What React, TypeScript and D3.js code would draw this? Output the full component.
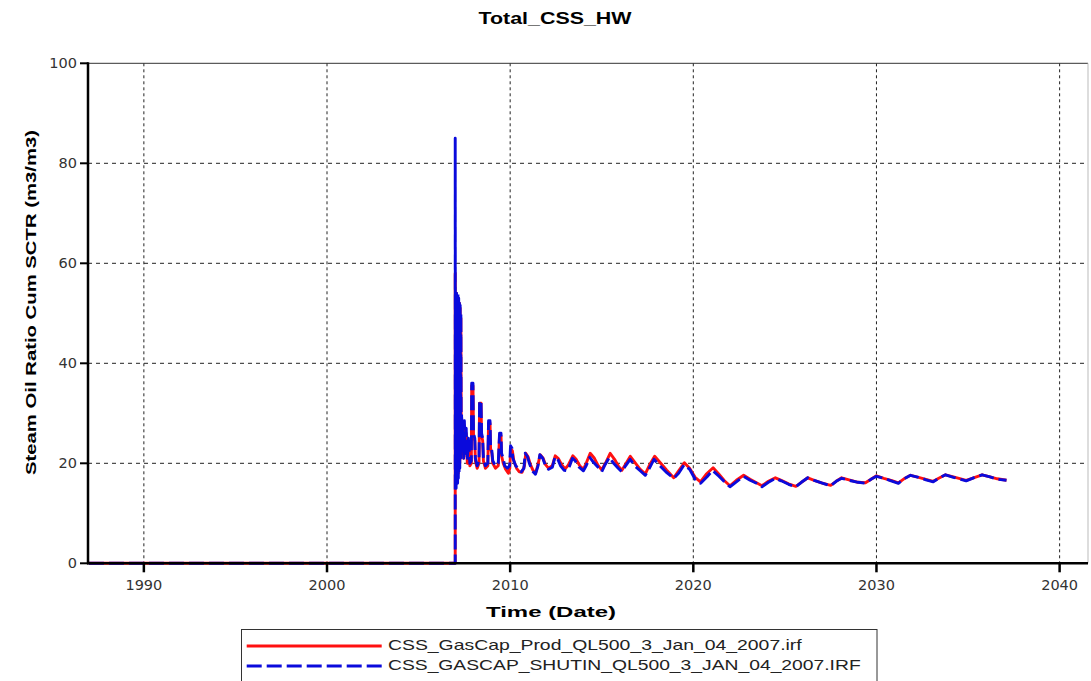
import React from 'react';
import * as d3 from 'd3';

const chartTitle = 'Total_CSS_HW';
const yAxisTitle = 'Steam Oil Ratio Cum SCTR (m3/m3)';
const xAxisTitle = 'Time (Date)';
const xTicks = [1990, 2000, 2010, 2020, 2030, 2040];
const yTicks = [0, 20, 40, 60, 80, 100];
const seriesNames = [
  'CSS_GasCap_Prod_QL500_3_Jan_04_2007.irf',
  'CSS_GASCAP_SHUTIN_QL500_3_JAN_04_2007.IRF',
];

// Series 1 (red, solid): CSS_GasCap_Prod
const prodYears = [
  1987.0, 2007.0, 2007.0, 2007.012, 2007.03, 2007.05, 2007.07, 2007.09, 2007.11, 2007.13, 2007.15, 2007.17,
  2007.19, 2007.21, 2007.23, 2007.25, 2007.27, 2007.29, 2007.31, 2007.33, 2007.35, 2007.38, 2007.42, 2007.46,
  2007.5, 2007.55, 2007.6, 2007.66, 2007.72, 2007.8, 2007.88, 2007.9, 2007.97, 2008.0, 2008.07, 2008.1,
  2008.2, 2008.3, 2008.33, 2008.41, 2008.44, 2008.5, 2008.54, 2008.65, 2008.78, 2008.82, 2008.9, 2008.93,
  2009.0, 2009.05, 2009.2, 2009.35, 2009.42, 2009.5, 2009.53, 2009.62, 2009.75, 2009.9, 2009.98, 2010.03,
  2010.12, 2010.2, 2010.35, 2010.5, 2010.65, 2010.78, 2010.85, 2010.98, 2011.1, 2011.25, 2011.4, 2011.52,
  2011.64, 2011.8, 2011.92, 2012.1, 2012.3, 2012.46, 2012.62, 2012.8, 2013.0, 2013.15, 2013.42, 2013.6,
  2013.8, 2014.0, 2014.15, 2014.37, 2014.6, 2014.8, 2015.0, 2015.2, 2015.46, 2015.7, 2015.9, 2016.1,
  2016.3, 2016.56, 2016.85, 2017.1, 2017.38, 2017.6, 2017.89, 2018.15, 2018.55, 2018.93, 2019.2, 2019.51,
  2019.8, 2020.1, 2020.39, 2020.7, 2021.08, 2021.4, 2021.7, 2022.0, 2022.35, 2022.75, 2023.1, 2023.45,
  2023.75, 2024.1, 2024.48, 2024.8, 2025.2, 2025.6, 2025.9, 2026.25, 2026.6, 2027.0, 2027.5, 2027.8,
  2028.1, 2028.5, 2029.0, 2029.4, 2029.7, 2030.0, 2030.4, 2030.8, 2031.2, 2031.5, 2031.86, 2032.3,
  2032.7, 2033.1, 2033.4, 2033.77, 2034.2, 2034.6, 2034.9, 2035.3, 2035.77, 2036.2, 2036.6, 2037.1,
];
const prodValues = [
  0, 0, 58, 16, 54, 16, 54, 17, 53, 17, 53, 18,
  52, 19, 52, 20, 51, 21, 49, 22, 29, 22.5, 27, 21,
  27.5, 22, 26, 20, 24, 19.5, 20, 35.5, 35.5, 25.5, 24.5, 20.5,
  19, 20, 32, 32, 25.5, 24.5, 20.5, 19, 19.5, 28, 28, 23,
  22, 20, 19, 19.5, 25.5, 25.5, 21.5, 20, 18.8, 18, 19, 23,
  22.5, 20.5, 19, 18.3, 18.2, 19.5, 22, 21.3, 19.8, 18.6, 18.2, 19.8,
  21.7, 21, 19.8, 19, 19.5, 21.5, 21, 19.8, 18.9, 19.5, 21.5, 20.8,
  19.5, 18.8, 20, 22, 21, 19.6, 18.7, 20, 22, 20.8, 19.5, 18.6,
  19.8, 21.4, 20, 18.8, 17.9, 19.6, 21.4, 20.3, 18.6, 17.1, 18.5, 20.1,
  19, 17.2, 16.3, 17.8, 19.1, 17.8, 16.5, 15.5, 16.6, 17.6, 16.8, 16.1,
  15.5, 16.4, 17.1, 16.6, 15.9, 15.4, 16.2, 17.1, 16.6, 16.1, 15.6, 16.4,
  17.1, 16.7, 16.2, 16.1, 16.8, 17.5, 17.0, 16.6, 16.1, 16.9, 17.6, 17.2,
  16.8, 16.4, 17.0, 17.7, 17.3, 16.9, 16.6, 17.1, 17.7, 17.3, 16.9, 16.6,
];

// Series 2 (blue, dashed): CSS_GASCAP_SHUTIN
const shutinYears = [
  1987.0, 2007.0, 2007.0, 2007.012, 2007.03, 2007.05, 2007.07, 2007.09, 2007.11, 2007.13, 2007.15, 2007.17,
  2007.19, 2007.21, 2007.23, 2007.25, 2007.27, 2007.29, 2007.31, 2007.33, 2007.35, 2007.38, 2007.42, 2007.46,
  2007.5, 2007.55, 2007.6, 2007.66, 2007.72, 2007.8, 2007.88, 2007.9, 2007.97, 2008.0, 2008.07, 2008.1,
  2008.2, 2008.3, 2008.33, 2008.41, 2008.44, 2008.5, 2008.54, 2008.65, 2008.78, 2008.82, 2008.9, 2008.93,
  2009.0, 2009.05, 2009.2, 2009.35, 2009.42, 2009.5, 2009.53, 2009.62, 2009.7, 2009.85, 2009.97, 2010.02,
  2010.1, 2010.15, 2010.3, 2010.45, 2010.6, 2010.75, 2010.82, 2010.95, 2011.05, 2011.2, 2011.38, 2011.52,
  2011.62, 2011.78, 2011.9, 2012.1, 2012.3, 2012.45, 2012.6, 2012.75, 2012.95, 2013.1, 2013.25, 2013.4,
  2013.55, 2013.75, 2014.0, 2014.15, 2014.35, 2014.55, 2014.8, 2015.0, 2015.15, 2015.42, 2015.65, 2015.9,
  2016.1, 2016.3, 2016.55, 2016.8, 2017.1, 2017.38, 2017.6, 2017.85, 2018.1, 2018.5, 2018.93, 2019.2,
  2019.5, 2019.8, 2020.1, 2020.4, 2020.75, 2021.05, 2021.4, 2021.7, 2022.0, 2022.35, 2022.75, 2023.1,
  2023.45, 2023.75, 2024.1, 2024.48, 2024.8, 2025.2, 2025.6, 2025.9, 2026.25, 2026.6, 2027.0, 2027.5,
  2027.8, 2028.1, 2028.5, 2029.0, 2029.4, 2029.7, 2030.0, 2030.4, 2030.8, 2031.2, 2031.5, 2031.86,
  2032.3, 2032.7, 2033.1, 2033.4, 2033.77, 2034.2, 2034.6, 2034.9, 2035.3, 2035.77, 2036.2, 2036.6,
  2037.1,
];
const shutinValues = [
  0, 0, 85, 15, 54, 15, 54, 16, 53, 16, 54, 17,
  53, 18, 52, 19, 52, 21, 50, 22, 30, 23, 28, 21,
  28.5, 22, 27, 20.5, 25, 20, 20.5, 36, 36, 26, 25, 21,
  19.5, 20.5, 32.5, 32.5, 26, 25, 21, 19.5, 20, 28.5, 28.5, 23.5,
  22.5, 20.5, 19.5, 20, 26, 26, 22, 21, 19.5, 19, 19.5, 23.5,
  23, 21, 19.5, 19, 18.3, 19, 22, 21.3, 20, 18.5, 17.8, 19.5,
  21.7, 21, 19.8, 18.8, 19.2, 21.3, 20.8, 19.5, 18.6, 18.5, 19.5, 21,
  20.5, 19.3, 18.5, 19.5, 21.2, 20.2, 19.2, 18.3, 19.5, 21.2, 20, 19,
  18.3, 19.5, 20.8, 19.5, 18.5, 17.6, 19, 20.8, 19.8, 18.3, 17.0, 18,
  19.7, 18.8, 16.8, 16.0, 17.3, 18.6, 17.4, 16.3, 15.3, 16.3, 17.4, 16.6,
  16, 15.3, 16.2, 17.0, 16.5, 15.8, 15.3, 16.2, 17.1, 16.6, 16.1, 15.5,
  16.4, 17.0, 16.6, 16.2, 16.0, 16.8, 17.4, 17.0, 16.5, 16.0, 16.9, 17.6,
  17.2, 16.7, 16.3, 17.0, 17.7, 17.2, 16.8, 16.5, 17.1, 17.7, 17.3, 16.8,
  16.6,
];

export default function App() {
  const W = 1091;
  const H = 681;
  const left = 88, right = 1088, top = 63.3, bottom = 563.3;
  const x = d3.scaleLinear().domain([1986.95, 2041.55]).range([left, right]);
  const y = d3.scaleLinear().domain([0, 100]).range([bottom, top]);
  const line = d3
    .line<[number, number]>()
    .x((d) => x(d[0]))
    .y((d) => y(d[1]));
  const prodPts = d3.zip(prodYears, prodValues) as [number, number][];
  const shutPts = d3.zip(shutinYears, shutinValues) as [number, number][];
  const tickFont = 'DejaVu Sans, Verdana, sans-serif';
  const boldFont = 'Liberation Sans, Arial, sans-serif';
  const redColor = '#ff1010';
  const blueColor = '#0a0adc';
  const lw = 2.9;

  return (
    <svg
      width={W}
      height={H}
      style={{ position: 'absolute', left: 0, top: 0, background: '#fff' }}
    >
      <rect x={0} y={0} width={W} height={H} fill="#fff" />
      {/* title */}
      <text
        x={555}
        y={24}
        textAnchor="middle"
        fontFamily={boldFont}
        fontWeight="bold"
        fontSize={17}
        textLength={153}
        lengthAdjust="spacingAndGlyphs"
        fill="#000"
      >
        {chartTitle}
      </text>

      {/* grid */}
      {yTicks.filter((t) => t > 0 && t < 100).map((t) => (
        <line key={'gy' + t} x1={left} x2={right} y1={y(t)} y2={y(t)} stroke="#222" strokeWidth={1} strokeDasharray="4,4" />
      ))}
      {xTicks.map((t) => (
        <line key={'gx' + t} x1={x(t)} x2={x(t)} y1={top} y2={bottom} stroke="#222" strokeWidth={1} strokeDasharray="3,3" />
      ))}

      {/* frame */}
      <line x1={left} x2={right} y1={top} y2={top} stroke="#333" strokeWidth={1} />
      <line x1={right} x2={right} y1={top} y2={bottom} stroke="#bbb" strokeWidth={1} />

      {/* series */}
      <path d={line(prodPts) || ''} fill="none" stroke={redColor} strokeWidth={lw} strokeLinejoin="round" />
      <path d={line(shutPts) || ''} fill="none" stroke={blueColor} strokeWidth={lw} strokeDasharray="15,5" strokeLinejoin="round" />

      {/* axes */}
      <line x1={left} x2={left} y1={top - 1} y2={bottom + 1} stroke="#000" strokeWidth={2.5} />
      <line x1={left - 1} x2={right} y1={bottom} y2={bottom} stroke="#000" strokeWidth={2.5} />
      {yTicks.map((t) => (
        <g key={'yt' + t}>
          <line x1={left - 8} x2={left} y1={y(t)} y2={y(t)} stroke="#000" strokeWidth={2} />
          <text x={left - 11} y={y(t) + 5} textAnchor="end" fontFamily={tickFont} fontSize={14.5} fill="#333">
            {t}
          </text>
        </g>
      ))}
      {xTicks.map((t) => (
        <g key={'xt' + t}>
          <line x1={x(t)} x2={x(t)} y1={bottom} y2={bottom + 9} stroke="#000" strokeWidth={2.5} />
          <text x={x(t)} y={590} textAnchor="middle" fontFamily={tickFont} fontSize={14.5} fill="#333">
            {t}
          </text>
        </g>
      ))}

      {/* axis titles */}
      <text
        transform="translate(36,302.5) rotate(-90)"
        textAnchor="middle"
        fontFamily={boldFont}
        fontWeight="bold"
        fontSize={15.5}
        textLength={345}
        lengthAdjust="spacingAndGlyphs"
        fill="#000"
      >
        {yAxisTitle}
      </text>
      <text
        x={551}
        y={617}
        textAnchor="middle"
        fontFamily={boldFont}
        fontWeight="bold"
        fontSize={15.5}
        textLength={130}
        lengthAdjust="spacingAndGlyphs"
        fill="#000"
      >
        {xAxisTitle}
      </text>

      {/* legend */}
      <rect x={241.5} y={629.5} width={635.5} height={70} fill="#fff" stroke="#333" strokeWidth={1} />
      <line x1={246.7} x2={381.7} y1={646} y2={646} stroke={redColor} strokeWidth={lw} />
      <line x1={246.7} x2={381.7} y1={666} y2={666} stroke={blueColor} strokeWidth={lw} strokeDasharray="15,5" />
      <text x={388} y={650} fontFamily={boldFont} fontSize={15} textLength={413.7} lengthAdjust="spacingAndGlyphs" fill="#222">
        {seriesNames[0]}
      </text>
      <text x={388} y={670} fontFamily={boldFont} fontSize={15} textLength={472.7} lengthAdjust="spacingAndGlyphs" fill="#222">
        {seriesNames[1]}
      </text>
    </svg>
  );
}
